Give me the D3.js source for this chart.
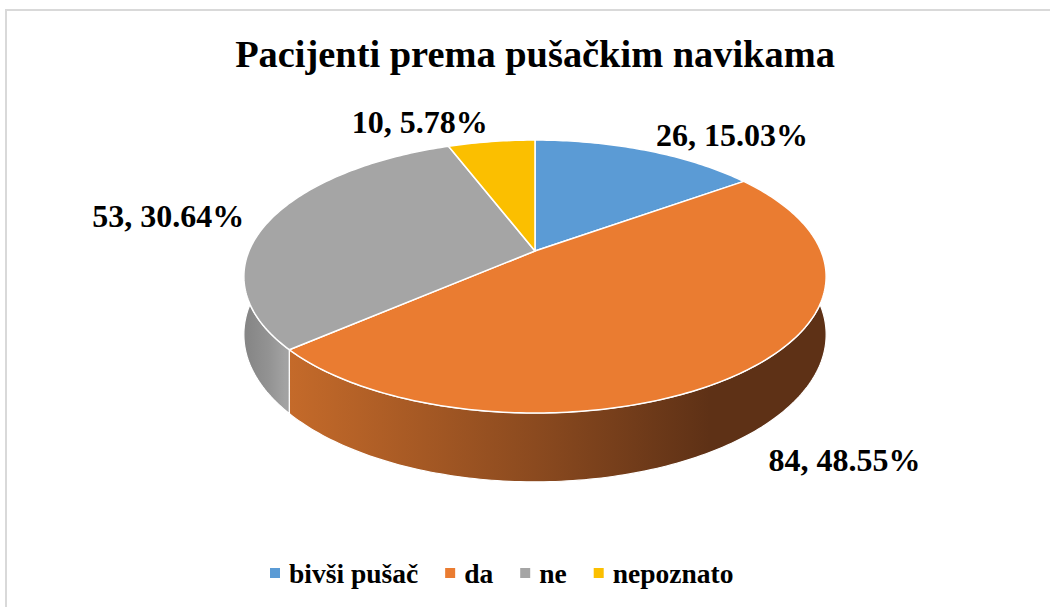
<!DOCTYPE html>
<html>
<head>
<meta charset="utf-8">
<script src="https://cdn.jsdelivr.net/npm/d3@7"></script>
</head>
<body style="margin:0; background:#fff">
<div id="chart"></div>
<script>
// data
const categories = ["bivši pušač", "da", "ne", "nepoznato"];
const counts = [26, 84, 53, 10];
const percents = ["15.03%", "48.55%", "30.64%", "5.78%"];

const TITLE = "Pacijenti prema pušačkim navikama";
const COLORS = ["#5b9bd5", "#ea7c31", "#a5a5a5", "#fbbf00"];
// side wall gradients [left, mid, right]
const SIDE_SHADES = [
  ["#3f6f99", "#345d80", "#2b4d6b"],
  ["#c46a2a", "#8b4a1f", "#5e3116"],
  ["#868686", "#939393", "#a2a2a2"],
  ["#b98c00", "#9a7400", "#7a5c00"]
];
const FONT = '"Liberation Serif"';

const WIDTH = 1050, HEIGHT = 607;

// 3d pie geometry (simple perspective)
const CX = 535, CY = 251;
const RX = 286, RY = 131.7;
const PERSP = 0.187;
const DEPTH = 56;

function proj(phi, r, drop) {
  const u = r * Math.sin(phi), v = -r * Math.cos(phi);
  const w = 1 - PERSP * v;
  return [CX + RX * u / w, CY + (RY * v + (drop || 0)) / w];
}

function arcPoints(a0, a1, r, drop) {
  const n = Math.max(2, Math.ceil((a1 - a0) * 60));
  const pts = [];
  for (let i = 0; i <= n; i++) pts.push(proj(a0 + (a1 - a0) * i / n, r, drop));
  return pts;
}

function label(sel) {
  return sel.append("text")
    .attr("font-family", FONT)
    .attr("font-weight", "bold");
}

const line = d3.line();

const svg = d3.select("#chart").append("svg")
  .attr("width", WIDTH)
  .attr("height", HEIGHT);

// chart border (extends past the right / bottom edge)
svg.append("rect")
  .attr("x", 6).attr("y", 10)
  .attr("width", 1200).attr("height", 800)
  .attr("fill", "#fff")
  .attr("stroke", "#d9d9d9")
  .attr("stroke-width", 2);

// title
label(svg)
  .attr("x", CX).attr("y", 67)
  .attr("text-anchor", "middle")
  .attr("font-size", 38.4)
  .text(TITLE);

const pie = d3.pie().sort(null).startAngle(0).endAngle(2 * Math.PI);
const slices = pie(counts);

// gradients for the side walls
const defs = svg.append("defs");
slices.forEach((d, i) => {
  // gray wall only spans the left edge, so its gradient is narrower
  const x1 = CX - RX * 1.02;
  const x2 = i === 2 ? proj(d.startAngle, 1)[0] + 6 : CX + RX * 1.02;
  const g = defs.append("linearGradient")
    .attr("id", "side" + i)
    .attr("gradientUnits", "userSpaceOnUse")
    .attr("x1", x1).attr("x2", x2)
    .attr("y1", 0).attr("y2", 0);
  g.append("stop").attr("offset", 0.08).attr("stop-color", SIDE_SHADES[i][0]);
  g.append("stop").attr("offset", 0.5).attr("stop-color", SIDE_SHADES[i][1]);
  g.append("stop").attr("offset", 0.8).attr("stop-color", SIDE_SHADES[i][2]);
});

// side walls (back parts are hidden by the top faces)
const sides = svg.append("g");
slices.forEach((d, i) => {
  const top = arcPoints(d.startAngle, d.endAngle, 1, 0);
  const bottom = arcPoints(d.startAngle, d.endAngle, 1, DEPTH).reverse();
  sides.append("path")
    .attr("d", line(top.concat(bottom)) + "Z")
    .attr("fill", `url(#side${i})`)
    .attr("stroke", "#fff")
    .attr("stroke-width", 1.2)
    .attr("stroke-linejoin", "round");
});

// top faces
const tops = svg.append("g");
slices.forEach((d, i) => {
  const pts = [proj(0, 0)].concat(arcPoints(d.startAngle, d.endAngle, 1, 0));
  tops.append("path")
    .attr("d", line(pts) + "Z")
    .attr("fill", COLORS[i])
    .attr("stroke", "#fff")
    .attr("stroke-width", 1.5)
    .attr("stroke-linejoin", "round");
});

// data labels, "count, percent"
const LABEL_H = 22;
const labels = svg.append("g");
slices.forEach((d, i) => {
  const mid = (d.startAngle + d.endAngle) / 2;
  const front = -Math.cos(mid) > PERSP;
  const p = proj(mid, 1.1, front ? DEPTH : 0);
  const dx = p[0] - CX, dy = p[1] - CY;
  const len = Math.hypot(dx, dy);
  const cy = p[1] + (LABEL_H / 2) * dy / len;
  label(labels)
    .attr("font-size", 32)
    .attr("x", p[0])
    .attr("y", cy + LABEL_H / 2)
    .attr("text-anchor", dx >= 0 ? "start" : "end")
    .text(`${counts[i]}, ${percents[i]}`);
});

// legend
const legend = svg.append("g");
let lx = 270;
const LEG_Y = 583;
categories.forEach((c, i) => {
  legend.append("rect")
    .attr("x", lx).attr("y", LEG_Y - 15)
    .attr("width", 10).attr("height", 10)
    .attr("fill", COLORS[i]);
  const t = label(legend)
    .attr("font-size", 27.5)
    .attr("x", lx + 19).attr("y", LEG_Y)
    .text(c);
  lx += 19 + t.node().getComputedTextLength() + 27;
});
</script>
</body>
</html>
